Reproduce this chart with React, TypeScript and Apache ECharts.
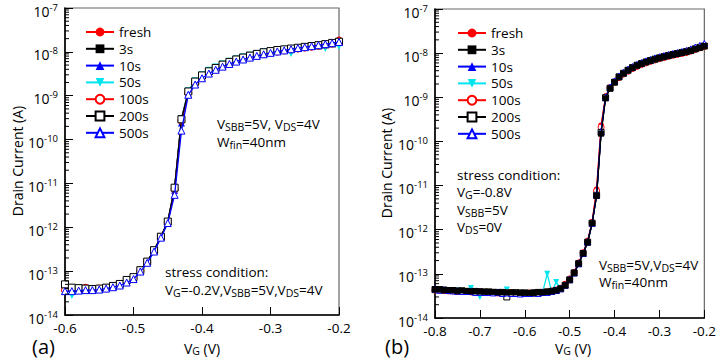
import React, { useEffect, useRef } from 'react';
import * as echarts from 'echarts';

const FONT = '"Open Sans", "DejaVu Sans", sans-serif';

// ---- panel (a): VG sweep -0.60 .. -0.20 V
const vgA = [-0.6, -0.59, -0.58, -0.57, -0.56, -0.55, -0.54, -0.53, -0.52, -0.51, -0.5, -0.49, -0.48, -0.47, -0.46, -0.45, -0.44, -0.43, -0.42, -0.41, -0.4, -0.39, -0.38, -0.37, -0.36, -0.35, -0.34, -0.33, -0.32, -0.31, -0.3, -0.29, -0.28, -0.27, -0.26, -0.25, -0.24, -0.23, -0.22, -0.21, -0.2];

const aFresh = [3.6e-14, 3.8e-14, 4.0e-14, 4.3e-14, 4.0e-14, 4.0e-14, 4.2e-14, 4.6e-14, 5.0e-14, 5.8e-14, 7.0e-14, 1.0e-13, 1.6e-13, 2.9e-13, 6.0e-13, 1.3e-12, 7.5e-12, 2.6e-10, 1.15e-9, 1.9e-9, 2.6e-9, 3.3e-9, 4.0e-9, 4.7e-9, 5.4e-9, 6.1e-9, 6.8e-9, 7.4e-9, 8.1e-9, 8.8e-9, 9.5e-9, 1.01e-8, 1.07e-8, 1.12e-8, 1.18e-8, 1.24e-8, 1.3e-8, 1.37e-8, 1.45e-8, 1.55e-8, 1.85e-8];
const a3s = [4.0e-14, 4.1e-14, 4.0e-14, 3.9e-14, 4.0e-14, 3.9e-14, 4.1e-14, 4.5e-14, 5.1e-14, 6.2e-14, 7.2e-14, 1.05e-13, 1.65e-13, 3.0e-13, 6.1e-13, 1.35e-12, 8.0e-12, 3.0e-10, 1.25e-9, 2.1e-9, 2.9e-9, 3.6e-9, 4.4e-9, 5.2e-9, 6.0e-9, 6.8e-9, 7.5e-9, 8.3e-9, 9.1e-9, 9.9e-9, 1.04e-8, 1.09e-8, 1.13e-8, 1.18e-8, 1.22e-8, 1.28e-8, 1.34e-8, 1.38e-8, 1.45e-8, 1.52e-8, 1.7e-8];
const a10s = [3.5e-14, 3.6e-14, 3.7e-14, 3.8e-14, 3.8e-14, 3.9e-14, 4.1e-14, 4.4e-14, 4.8e-14, 5.6e-14, 6.8e-14, 1.0e-13, 1.6e-13, 2.9e-13, 5.9e-13, 1.3e-12, 7.0e-12, 2.4e-10, 1.1e-9, 1.85e-9, 2.6e-9, 3.3e-9, 4.0e-9, 4.8e-9, 5.5e-9, 6.2e-9, 6.9e-9, 7.6e-9, 8.4e-9, 9.1e-9, 9.8e-9, 1.05e-8, 1.1e-8, 1.17e-8, 1.22e-8, 1.3e-8, 1.36e-8, 1.42e-8, 1.48e-8, 1.55e-8, 1.65e-8];
const a50s = [3.4e-14, 2.8e-14, 3.6e-14, 3.7e-14, 3.8e-14, 3.9e-14, 4.0e-14, 4.3e-14, 4.7e-14, 5.3e-14, 6.5e-14, 9.5e-14, 1.55e-13, 2.8e-13, 5.8e-13, 1.3e-12, 7.8e-12, 2.9e-10, 1.3e-9, 2.2e-9, 3.0e-9, 3.8e-9, 4.5e-9, 5.3e-9, 6.1e-9, 6.9e-9, 7.6e-9, 8.4e-9, 9.2e-9, 1.0e-8, 1.06e-8, 1.1e-8, 1.15e-8, 9.2e-9, 1.25e-8, 1.3e-8, 1.36e-8, 1.4e-8, 1.2e-8, 1.5e-8, 1.35e-8];
const a100s = [3.7e-14, 3.9e-14, 3.9e-14, 4.1e-14, 3.9e-14, 4.0e-14, 4.1e-14, 4.5e-14, 4.9e-14, 5.7e-14, 6.9e-14, 1.0e-13, 1.6e-13, 2.9e-13, 6.0e-13, 1.3e-12, 7.4e-12, 2.7e-10, 1.15e-9, 1.9e-9, 2.6e-9, 3.3e-9, 4.1e-9, 4.8e-9, 5.5e-9, 6.2e-9, 6.9e-9, 7.6e-9, 8.3e-9, 9.0e-9, 9.6e-9, 1.02e-8, 1.08e-8, 1.14e-8, 1.2e-8, 1.26e-8, 1.33e-8, 1.4e-8, 1.47e-8, 1.55e-8, 1.75e-8];
const a200s = [5.0e-14, 4.2e-14, 4.1e-14, 4.0e-14, 3.9e-14, 4.0e-14, 4.2e-14, 4.6e-14, 5.1e-14, 6.3e-14, 7.3e-14, 1.05e-13, 1.65e-13, 3.0e-13, 6.1e-13, 1.35e-12, 8.0e-12, 2.9e-10, 1.25e-9, 2.1e-9, 2.9e-9, 3.6e-9, 4.3e-9, 5.1e-9, 5.9e-9, 6.7e-9, 7.4e-9, 8.2e-9, 9.0e-9, 9.8e-9, 1.04e-8, 1.1e-8, 1.14e-8, 1.19e-8, 1.24e-8, 1.3e-8, 1.36e-8, 1.42e-8, 1.5e-8, 1.6e-8, 1.7e-8];
const a500s = [3.5e-14, 3.5e-14, 3.6e-14, 3.7e-14, 3.7e-14, 3.8e-14, 4.0e-14, 4.3e-14, 4.7e-14, 5.5e-14, 6.6e-14, 9.8e-14, 1.55e-13, 2.8e-13, 5.8e-13, 1.25e-12, 5.5e-12, 1.6e-10, 1.05e-9, 1.8e-9, 2.5e-9, 3.2e-9, 3.9e-9, 4.6e-9, 5.3e-9, 6.0e-9, 6.7e-9, 7.4e-9, 8.1e-9, 8.8e-9, 9.5e-9, 1.02e-8, 1.08e-8, 1.15e-8, 1.22e-8, 1.28e-8, 1.35e-8, 1.42e-8, 1.5e-8, 1.58e-8, 1.68e-8];

// ---- panel (b): VG sweep -0.80 .. -0.20 V
const vgB = [-0.8, -0.79, -0.78, -0.77, -0.76, -0.75, -0.74, -0.73, -0.72, -0.71, -0.7, -0.69, -0.68, -0.67, -0.66, -0.65, -0.64, -0.63, -0.62, -0.61, -0.6, -0.59, -0.58, -0.57, -0.56, -0.55, -0.54, -0.53, -0.52, -0.51, -0.5, -0.49, -0.48, -0.47, -0.46, -0.45, -0.44, -0.43, -0.42, -0.41, -0.4, -0.39, -0.38, -0.37, -0.36, -0.35, -0.34, -0.33, -0.32, -0.31, -0.3, -0.29, -0.28, -0.27, -0.26, -0.25, -0.24, -0.23, -0.22, -0.21, -0.2];

const bFresh = [4.4e-14, 4.3e-14, 4.2e-14, 4.2e-14, 4.1e-14, 4.1e-14, 4.0e-14, 4.0e-14, 4.0e-14, 3.9e-14, 3.9e-14, 3.9e-14, 3.8e-14, 3.8e-14, 3.8e-14, 3.7e-14, 3.7e-14, 3.6e-14, 3.7e-14, 3.6e-14, 3.6e-14, 3.6e-14, 3.7e-14, 3.7e-14, 3.8e-14, 3.9e-14, 4.0e-14, 4.3e-14, 4.8e-14, 5.9e-14, 7.8e-14, 1.1e-13, 1.8e-13, 3.0e-13, 5.6e-13, 1.5e-12, 8.2e-12, 2.3e-10, 1.05e-9, 1.65e-9, 2.2e-9, 2.8e-9, 3.3e-9, 3.9e-9, 4.4e-9, 5.0e-9, 5.5e-9, 6.0e-9, 6.5e-9, 7.0e-9, 7.4e-9, 7.9e-9, 8.4e-9, 8.9e-9, 9.3e-9, 9.8e-9, 1.03e-8, 1.1e-8, 1.2e-8, 1.3e-8, 1.4e-8];
const b3s = [4.5e-14, 4.4e-14, 4.3e-14, 4.3e-14, 4.2e-14, 4.1e-14, 4.2e-14, 4.1e-14, 4.0e-14, 4.0e-14, 4.0e-14, 3.9e-14, 3.9e-14, 3.9e-14, 3.8e-14, 3.8e-14, 3.8e-14, 3.8e-14, 3.8e-14, 3.7e-14, 3.7e-14, 3.7e-14, 3.7e-14, 3.8e-14, 3.8e-14, 3.9e-14, 4.0e-14, 4.2e-14, 4.6e-14, 5.5e-14, 7.3e-14, 1.05e-13, 1.7e-13, 2.9e-13, 5.2e-13, 1.4e-12, 5.8e-12, 1.5e-10, 9.5e-10, 1.6e-9, 2.2e-9, 2.9e-9, 3.5e-9, 4.1e-9, 4.7e-9, 5.3e-9, 5.8e-9, 6.3e-9, 6.8e-9, 7.3e-9, 7.8e-9, 8.3e-9, 8.8e-9, 9.3e-9, 9.8e-9, 1.03e-8, 1.08e-8, 1.15e-8, 1.25e-8, 1.35e-8, 1.45e-8];
const b10s = [4.5e-14, 4.2e-14, 4.3e-14, 4.1e-14, 4.2e-14, 4.0e-14, 4.1e-14, 3.9e-14, 4.1e-14, 3.9e-14, 4.0e-14, 3.8e-14, 3.9e-14, 3.7e-14, 3.8e-14, 3.7e-14, 3.8e-14, 3.6e-14, 3.7e-14, 3.6e-14, 3.7e-14, 3.6e-14, 3.8e-14, 3.7e-14, 3.9e-14, 3.8e-14, 4.0e-14, 4.2e-14, 4.6e-14, 5.6e-14, 7.4e-14, 1.05e-13, 1.7e-13, 2.9e-13, 5.3e-13, 1.4e-12, 6.2e-12, 1.7e-10, 1.0e-9, 1.7e-9, 2.3e-9, 3.0e-9, 3.7e-9, 4.3e-9, 4.9e-9, 5.5e-9, 6.1e-9, 6.6e-9, 7.1e-9, 7.7e-9, 8.2e-9, 8.7e-9, 9.2e-9, 9.7e-9, 1.02e-8, 1.08e-8, 1.14e-8, 1.22e-8, 1.35e-8, 1.45e-8, 1.6e-8];
const b50s = [4.3e-14, 4.4e-14, 4.2e-14, 4.3e-14, 4.1e-14, 4.2e-14, 4.0e-14, 4.1e-14, 4.8e-14, 3.9e-14, 3.0e-14, 3.9e-14, 3.8e-14, 3.9e-14, 3.7e-14, 3.8e-14, 4.4e-14, 3.7e-14, 3.6e-14, 3.7e-14, 3.6e-14, 3.7e-14, 3.8e-14, 3.6e-14, 3.9e-14, 1.0e-13, 3.9e-14, 6.5e-14, 4.7e-14, 5.6e-14, 7.5e-14, 1.05e-13, 1.7e-13, 2.9e-13, 5.3e-13, 1.4e-12, 6.5e-12, 1.8e-10, 1.0e-9, 1.6e-9, 2.2e-9, 2.9e-9, 3.5e-9, 4.1e-9, 4.7e-9, 5.2e-9, 5.7e-9, 6.2e-9, 6.7e-9, 7.2e-9, 7.6e-9, 8.1e-9, 8.6e-9, 9.0e-9, 9.5e-9, 1.0e-8, 1.05e-8, 1.12e-8, 1.22e-8, 1.32e-8, 1.42e-8];
const b100s = [4.3e-14, 4.3e-14, 4.2e-14, 4.1e-14, 4.1e-14, 4.0e-14, 4.0e-14, 4.0e-14, 3.9e-14, 3.9e-14, 3.9e-14, 3.8e-14, 3.8e-14, 3.8e-14, 3.7e-14, 3.7e-14, 3.7e-14, 3.7e-14, 3.6e-14, 3.6e-14, 3.6e-14, 3.7e-14, 3.7e-14, 3.7e-14, 3.8e-14, 3.9e-14, 4.1e-14, 4.3e-14, 4.7e-14, 5.8e-14, 7.6e-14, 1.08e-13, 1.75e-13, 3.0e-13, 5.5e-13, 1.45e-12, 7.6e-12, 2.1e-10, 1.02e-9, 1.65e-9, 2.2e-9, 2.8e-9, 3.4e-9, 3.9e-9, 4.5e-9, 5.0e-9, 5.5e-9, 6.0e-9, 6.5e-9, 7.0e-9, 7.5e-9, 8.0e-9, 8.5e-9, 9.0e-9, 9.4e-9, 9.9e-9, 1.04e-8, 1.12e-8, 1.22e-8, 1.32e-8, 1.42e-8];
const b200s = [4.4e-14, 4.4e-14, 4.3e-14, 4.2e-14, 4.2e-14, 4.1e-14, 4.1e-14, 4.0e-14, 4.0e-14, 4.0e-14, 3.9e-14, 3.9e-14, 3.9e-14, 3.8e-14, 3.8e-14, 3.8e-14, 3.0e-14, 3.7e-14, 3.7e-14, 3.7e-14, 3.7e-14, 3.6e-14, 3.7e-14, 3.8e-14, 3.8e-14, 3.9e-14, 4.0e-14, 4.2e-14, 4.6e-14, 5.5e-14, 7.3e-14, 1.05e-13, 1.7e-13, 2.9e-13, 5.2e-13, 1.4e-12, 6.0e-12, 1.6e-10, 9.8e-10, 1.6e-9, 2.2e-9, 2.9e-9, 3.5e-9, 4.1e-9, 4.7e-9, 5.3e-9, 5.8e-9, 6.3e-9, 6.8e-9, 7.3e-9, 7.8e-9, 8.3e-9, 8.8e-9, 9.3e-9, 9.8e-9, 1.03e-8, 1.08e-8, 1.15e-8, 1.25e-8, 1.35e-8, 1.45e-8];
const b500s = [4.6e-14, 4.3e-14, 4.4e-14, 4.2e-14, 4.1e-14, 4.1e-14, 4.0e-14, 4.0e-14, 4.0e-14, 3.8e-14, 3.9e-14, 3.8e-14, 3.8e-14, 3.7e-14, 3.8e-14, 3.6e-14, 3.7e-14, 3.6e-14, 3.6e-14, 3.5e-14, 3.6e-14, 3.6e-14, 3.7e-14, 3.6e-14, 3.8e-14, 3.8e-14, 4.0e-14, 4.2e-14, 4.6e-14, 5.6e-14, 7.4e-14, 1.05e-13, 1.7e-13, 2.9e-13, 5.3e-13, 1.4e-12, 6.2e-12, 1.7e-10, 1.0e-9, 1.7e-9, 2.35e-9, 3.05e-9, 3.7e-9, 4.35e-9, 4.95e-9, 5.55e-9, 6.1e-9, 6.7e-9, 7.2e-9, 7.8e-9, 8.3e-9, 8.8e-9, 9.3e-9, 9.8e-9, 1.03e-8, 1.09e-8, 1.15e-8, 1.25e-8, 1.38e-8, 1.5e-8, 1.65e-8];

const seriesNames = ['fresh', '3s', '10s', '50s', '100s', '200s', '500s'];
const panelA = [aFresh, a3s, a10s, a50s, a100s, a200s, a500s];
const panelB = [bFresh, b3s, b10s, b50s, b100s, b200s, b500s];

const yTickMin = 1e-14;
const yTickMax = 1e-7;

// marker styling per series (style table, not data)
const DOWN_TRI = 'path://M0,0L10,0L5,9Z';
const styles = [
  { color: '#ff0000', symbol: 'circle', open: false },
  { color: '#000000', symbol: 'rect', open: false },
  { color: '#0000ff', symbol: 'triangle', open: false },
  { color: '#00e5ee', symbol: DOWN_TRI, open: false },
  { color: '#ff0000', symbol: 'circle', open: true },
  { color: '#000000', symbol: 'rect', open: true },
  { color: '#0000ff', symbol: 'triangle', open: true },
];

const minorVals: number[] = [];
for (let e = -14; e < -7; e++) {
  for (let k = 2; k <= 9; k++) minorVals.push(k * Math.pow(10, e));
}

function makeSeries(idx: number, xs: number[], ys: number[], gridIdx: number, size: number, z: number) {
  const s = styles[idx];
  return {
    type: 'line',
    name: seriesNames[idx],
    xAxisIndex: gridIdx,
    yAxisIndex: gridIdx,
    data: xs.map((x, i) => [x, ys[i]]),
    symbol: s.symbol,
    symbolSize: size,
    showAllSymbol: true,
    z,
    lineStyle: { color: s.color, width: 1.3 },
    itemStyle: s.open
      ? { color: '#ffffff', borderColor: s.color, borderWidth: 1 }
      : { color: s.color, borderColor: s.color, borderWidth: 0 },
    emphasis: { disabled: true },
    silent: true,
  };
}

function minorTickSeries(gridIdx: number, xMin: number) {
  return {
    type: 'custom',
    xAxisIndex: gridIdx,
    yAxisIndex: gridIdx,
    clip: false,
    silent: true,
    z: 20,
    data: minorVals.map((v) => [xMin, v]),
    renderItem: (params: any, api: any) => {
      const p = api.coord([api.value(0), api.value(1)]);
      return {
        type: 'line',
        shape: { x1: p[0], y1: p[1], x2: p[0] + 4, y2: p[1] },
        style: { stroke: '#000', lineWidth: 1 },
      };
    },
  };
}

const richNum = {
  b: { fontSize: 14, fontFamily: FONT, lineHeight: 18, color: '#000' },
  s: { fontSize: 9.5, fontFamily: FONT, lineHeight: 9, verticalAlign: 'top', color: '#000' },
};
const richTxt = {
  n: { fontSize: 13.5, fontFamily: FONT, lineHeight: 16, color: '#000' },
  u: { fontSize: 10.5, fontFamily: FONT, lineHeight: 8, verticalAlign: 'bottom', color: '#000' },
};
const richAxis = {
  n: { fontSize: 14, fontFamily: FONT, lineHeight: 16, color: '#000' },
  u: { fontSize: 10.5, fontFamily: FONT, lineHeight: 8, verticalAlign: 'bottom', color: '#000' },
};

function yAxisCfg(gridIdx: number) {
  return {
    type: 'log',
    gridIndex: gridIdx,
    logBase: 10,
    min: yTickMin,
    max: yTickMax,
    splitNumber: 7,
    splitLine: { show: false },
    axisLine: { show: true, lineStyle: { color: '#000', width: 1.6 } },
    axisTick: { show: true, inside: true, length: 8, lineStyle: { color: '#000', width: 1 } },
    axisLabel: {
      margin: 7,
      padding: [6, 0, 0, 0],
      formatter: (v: number) => `{b|10}{s|${Math.round(Math.log10(v))}}`,
      rich: richNum,
    },
  };
}

function xAxisCfg(gridIdx: number, min: number) {
  return {
    type: 'value',
    gridIndex: gridIdx,
    min,
    max: -0.2,
    interval: 0.1,
    splitLine: { show: false },
    axisLine: { show: true, onZero: false, lineStyle: { color: '#000', width: 1.6 } },
    axisTick: { show: true, inside: true, length: 8, lineStyle: { color: '#000', width: 1 } },
    axisLabel: {
      margin: 6,
      color: '#000',
      fontSize: 13.5,
      fontFamily: FONT,
      formatter: (v: number) => v.toFixed(1),
    },
  };
}

function txt(x: number, y: number, text: string, extra: any = {}, rich: any = richTxt) {
  return {
    type: 'text',
    x,
    y,
    silent: true,
    z: 50,
    style: {
      text,
      rich,
      fontSize: 13.5,
      fontFamily: FONT,
      fill: '#000',
      align: 'left',
      verticalAlign: 'middle',
      ...extra,
    },
  };
}

const legendCfg = (left: number, top: number) => ({
  orient: 'vertical',
  left,
  top,
  itemWidth: 28,
  itemHeight: 11,
  itemGap: 2.8,
  selectedMode: false,
  data: seriesNames,
  textStyle: { fontSize: 13.5, fontFamily: FONT, color: '#000', lineHeight: 14 },
});

export default function App() {
  const ref = useRef<HTMLDivElement>(null);
  useEffect(() => {
    if (!ref.current) return;
    const chart = echarts.init(ref.current, undefined, { renderer: 'svg' });
    const seriesA = panelA.map((ys, i) => makeSeries(i, vgA, ys, 0, 7, 2 + i));
    const orderB = [0, 2, 3, 4, 5, 6, 1];
    const seriesB = orderB.map((i, k) => makeSeries(i, vgB, panelB[i], 1, 6, 2 + k));
    chart.setOption({
      animation: false,
      backgroundColor: '#ffffff',
      grid: [
        { left: 65, top: 8, width: 274, height: 307, show: true, borderColor: '#666', borderWidth: 1.2, backgroundColor: 'transparent' },
        { left: 435, top: 9, width: 276, height: 309, show: true, borderColor: '#666', borderWidth: 1.2, backgroundColor: 'transparent' },
      ],
      xAxis: [xAxisCfg(0, -0.6), xAxisCfg(1, -0.8)],
      yAxis: [yAxisCfg(0), yAxisCfg(1)],
      legend: [legendCfg(80, 20), legendCfg(452, 21)],
      series: [...seriesA, ...seriesB, minorTickSeries(0, -0.6), minorTickSeries(1, -0.8)],
      graphic: [
        // panel (a)
        { ...txt(17, 161, 'Drain Current (A)', { align: 'center', fontSize: 14 }), rotation: Math.PI / 2 },
        txt(202, 348, '{n|V}{u|G}{n| (V)}', { align: 'center' }, richAxis),
        txt(32, 346, '(a)', { fontSize: 20 }),
        txt(217, 124, '{n|V}{u|SBB}{n|=5V, V}{u|DS}{n|=4V}'),
        txt(217, 142, '{n|W}{u|fin}{n|=40nm}'),
        txt(165, 272, 'stress condition:'),
        txt(165, 290, '{n|V}{u|G}{n|=-0.2V,V}{u|SBB}{n|=5V,V}{u|DS}{n|=4V}'),
        // panel (b)
        { ...txt(386, 163, 'Drain Current (A)', { align: 'center', fontSize: 14 }), rotation: Math.PI / 2 },
        txt(573, 348, '{n|V}{u|G}{n| (V)}', { align: 'center' }, richAxis),
        txt(385, 346, '(b)', { fontSize: 20 }),
        txt(457, 175, 'stress condition:'),
        txt(457, 192, '{n|V}{u|G}{n|=-0.8V}'),
        txt(457, 210, '{n|V}{u|SBB}{n|=5V}'),
        txt(457, 227, '{n|V}{u|DS}{n|=0V}'),
        txt(599, 265, '{n|V}{u|SBB}{n|=5V,V}{u|DS}{n|=4V}'),
        txt(599, 282, '{n|W}{u|fin}{n|=40nm}'),
      ],
    });
    return () => chart.dispose();
  }, []);
  return (
    <div
      ref={ref}
      style={{ position: 'absolute', left: 0, top: 0, width: 719, height: 364 }}
    />
  );
}
